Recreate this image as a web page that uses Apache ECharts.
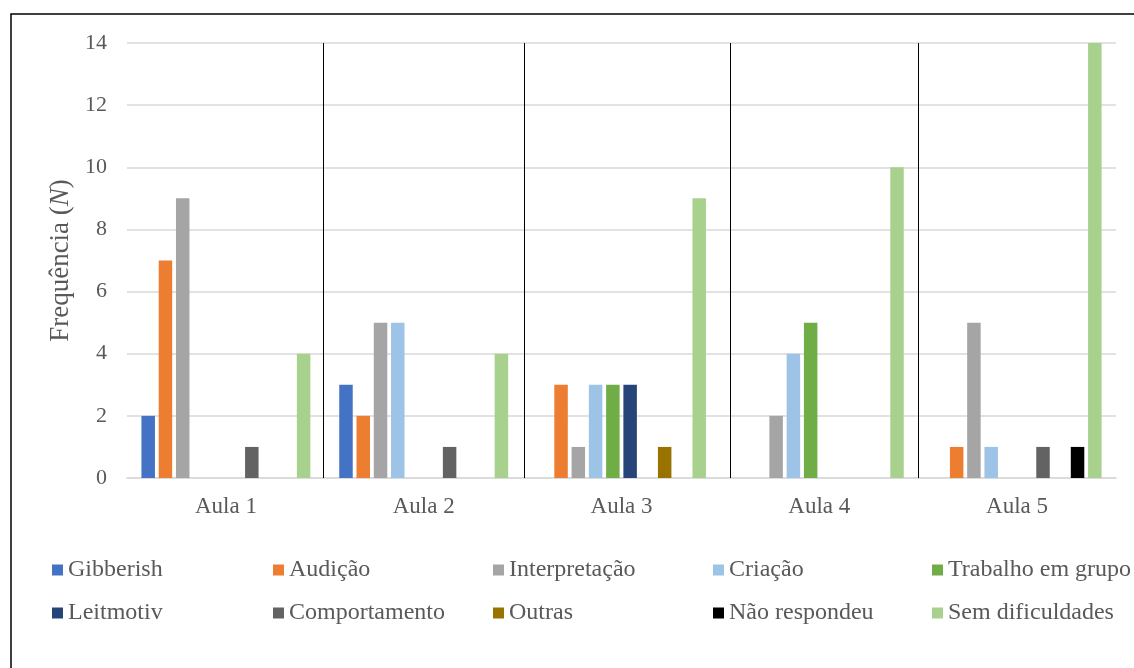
<!DOCTYPE html>
<html><head><meta charset="utf-8">
<script src="https://cdn.jsdelivr.net/npm/echarts@6/dist/echarts.min.js"></script>
<style>html,body{margin:0;padding:0;background:#fff}#c{width:1134px;height:668px}</style>
</head><body><div id="c"></div>
<script>
const categories = ['Aula 1','Aula 2','Aula 3','Aula 4','Aula 5'];
const seriesNames = ['Gibberish','Audição','Interpretação','Criação','Trabalho em grupo','Leitmotiv','Comportamento','Outras','Não respondeu','Sem dificuldades'];
const gibberish       = [2, 3, 0, 0, 0];
const audicao         = [7, 2, 3, 0, 1];
const interpretacao   = [9, 5, 1, 2, 5];
const criacao         = [0, 5, 3, 4, 1];
const trabalhoGrupo   = [0, 0, 3, 5, 0];
const leitmotiv       = [0, 0, 3, 0, 0];
const comportamento   = [1, 1, 0, 0, 1];
const outras          = [0, 0, 1, 0, 0];
const naoRespondeu    = [0, 0, 0, 0, 1];
const semDificuldades = [4, 4, 9, 10, 14];
const yTicks = [0, 2, 4, 6, 8, 10, 12, 14];
const separators = [0.995, 2.01, 3.05, 4.0];

const values = [gibberish, audicao, interpretacao, criacao, trabalhoGrupo, leitmotiv, comportamento, outras, naoRespondeu, semDificuldades];
const colors = ['#4472C4','#ED7D31','#A5A5A5','#9DC3E6','#70AD47','#264478','#636363','#997300','#000000','#A9D18E'];
const font = '"Liberation Serif", "Times New Roman", serif';
const txt = '#595959';

const chart = echarts.init(document.getElementById('c'), null, {renderer:'canvas'});

const legendPos = [
  [52,558],[273,558],[493,558],[713,558],[932,558],
  [52,601],[273,601],[493,601],[713,601],[932,601]
];
const legends = seriesNames.map((n,i)=>({
  data:[n], left:legendPos[i][0], top:legendPos[i][1], padding:0, icon:'rect', itemWidth:11, itemHeight:11, itemGap:4,
  textStyle:{fontFamily:font, fontSize:24, lineHeight:24, color:txt, padding:[0,0,0,0]}, selectedMode:false
}));

const series = seriesNames.map((n,i)=>({
  name:n, type:'bar', data:values[i], itemStyle:{color:colors[i]},
  barGap:'28%', barCategoryGap:'14.6%', xAxisIndex:0, yAxisIndex:0
}));
series.push({
  type:'line', xAxisIndex:1, yAxisIndex:0, data:[], silent:true,
  markLine:{symbol:'none', silent:true, label:{show:false},
    lineStyle:{color:'#000', width:1, type:'solid'},
    data: separators.map(v=>({xAxis:v}))}
});

chart.setOption({
  animation:false,
  backgroundColor:'#fff',
  graphic:[{type:'rect', shape:{x:11, y:14, width:1200, height:700}, style:{fill:'none', stroke:'#000', lineWidth:1.5}, z:100}],
  grid:{left:127, right:18, top:43, bottom:190, containLabel:false},
  legend: legends,
  xAxis:[{
    type:'category', data:categories,
    axisLine:{lineStyle:{color:'#d9d9d9', width:1.5}}, axisTick:{show:false},
    axisLabel:{fontFamily:font, fontSize:23, color:txt, margin:17}
  },{
    type:'value', min:0, max:5, show:false
  }],
  yAxis:{
    type:'value', min:0, max:14, interval:2,
    axisLine:{show:false}, axisTick:{show:false},
    splitLine:{lineStyle:{color:'#d9d9d9', width:1.5}},
    axisLabel:{fontFamily:font, fontSize:22, color:txt, margin:20},
    name:'{a|Frequência (}{b|N}{a|)}', nameLocation:'middle', nameGap:52, nameRotate:90,
    nameTextStyle:{rich:{a:{fontFamily:font, fontSize:27, color:txt}, b:{fontFamily:font, fontSize:27, color:txt, fontStyle:'italic'}}}
  },
  series: series
});
</script></body></html>
